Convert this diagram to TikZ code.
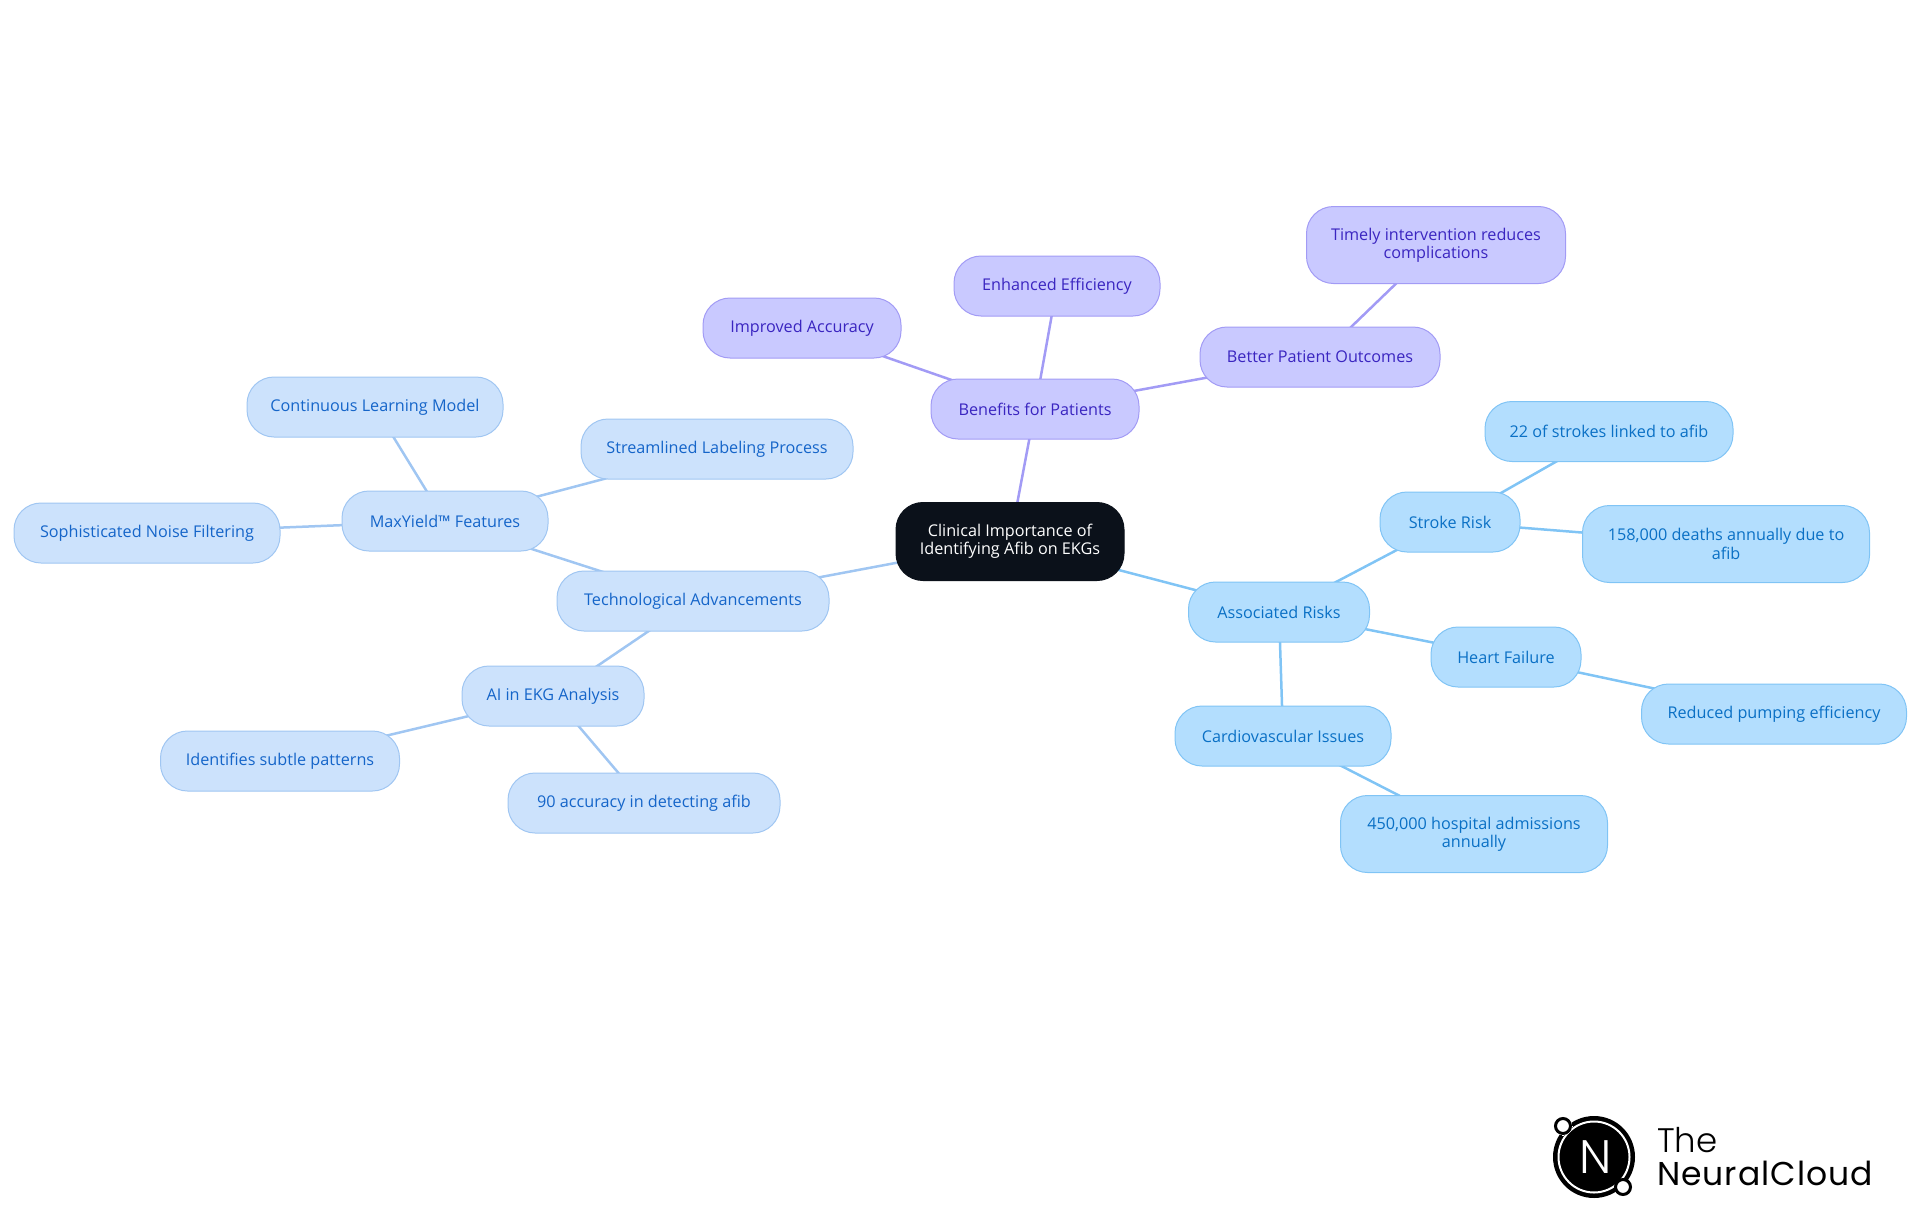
\documentclass[tikz,border=0pt]{standalone}
\usepackage{fontspec}
\usepackage{tikz}
\usetikzlibrary{backgrounds}
\setmainfont{Open Sans}
\newfontfamily\logofont{Poppins Light}
\newfontfamily\cloudfont[LetterSpace=3]{Poppins}
\definecolor{rootfill}{HTML}{0B111A}
\definecolor{techfill}{HTML}{CCE2FC}
\definecolor{techline}{HTML}{A0C6F2}
\definecolor{techtext}{HTML}{1565C9}
\definecolor{benefitfill}{HTML}{C9C9FF}
\definecolor{benefitline}{HTML}{A29BF5}
\definecolor{benefittext}{HTML}{3A25C0}
\definecolor{riskfill}{HTML}{B3DEFE}
\definecolor{riskline}{HTML}{80C4F5}
\definecolor{risktext}{HTML}{0A70C5}

\begin{document}
\begin{tikzpicture}
            [x=1pt,y=-1pt,
            idea/.style={rounded corners=27pt,inner sep=0pt,line width=1pt,align=center,minimum height=60pt,font=\fontsize{16.2}{18.4}\selectfont},
            root/.style={idea,fill=rootfill,draw=rootfill,text=white},
            tech/.style={idea,fill=techfill,draw=techline,text=techtext},
            benefit/.style={idea,fill=benefitfill,draw=benefitline,text=benefittext},
            risk/.style={idea,fill=riskfill,draw=riskline,text=risktext},
            techedge/.style={line width=2.5pt,techline},
            benefitedge/.style={line width=2.5pt,benefitline},
            riskedge/.style={line width=2.5pt,riskline}]
            \useasboundingbox (0,0) rectangle (1920,1215);

            \node[root,minimum width=228pt,minimum height=78pt] (clinical) at (1010,541.5) {Clinical Importance of\\Identifying Afib on EKGs};

            \node[benefit,minimum width=208pt] (benefits) at (1035,409) {Benefits for Patients};
            \node[benefit,minimum width=198pt] (accuracy) at (802,328) {Improved Accuracy};
            \node[benefit,minimum width=206pt] (efficiency) at (1057,286) {Enhanced Efficiency};
            \node[benefit,minimum width=240pt] (outcomes) at (1320,357) {Better Patient Outcomes};
            \node[benefit,minimum width=259pt,minimum height=77pt] (timely) at (1436,245) {Timely intervention reduces\\complications};

            \node[risk,minimum width=181pt] (risks) at (1279,612) {Associated Risks};
            \node[risk,minimum width=140pt] (stroke) at (1450,522) {Stroke Risk};
            \node[risk,minimum width=248pt] (strokes) at (1609,431.5) {22 of strokes linked to afib};
            \node[risk,minimum width=287pt,minimum height=77pt] (deaths) at (1726,544) {158,000 deaths annually due to\\afib};
            \node[risk,minimum width=150pt] (heart) at (1506,657) {Heart Failure};
            \node[risk,minimum width=265pt] (pumping) at (1774,714) {Reduced pumping efficiency};
            \node[risk,minimum width=216pt] (cardio) at (1283,736) {Cardiovascular Issues};
            \node[risk,minimum width=267pt,minimum height=77pt] (admissions) at (1474,834) {450,000 hospital admissions\\annually};

            \node[tech,minimum width=272pt] (advances) at (693,601) {Technological Advancements};
            \node[tech,minimum width=206pt] (maxyield) at (445,521) {MaxYield™ Features};
            \node[tech,minimum width=256pt] (learning) at (375,407) {Continuous Learning Model};
            \node[tech,minimum width=272pt] (labeling) at (717,449) {Streamlined Labeling Process};
            \node[tech,minimum width=266pt] (noise) at (147,533) {Sophisticated Noise Filtering};
            \node[tech,minimum width=182pt] (ekg) at (553,696) {AI in EKG Analysis};
            \node[tech,minimum width=239pt] (patterns) at (280,761) {Identifies subtle patterns};
            \node[tech,minimum width=272pt] (detecting) at (644,803) {90 accuracy in detecting afib};

            \begin{scope}[on background layer]
            \draw[benefitedge] (clinical.center) -- (benefits.center);
            \draw[benefitedge] (benefits.center) -- (accuracy.center);
            \draw[benefitedge] (benefits.center) -- (efficiency.center);
            \draw[benefitedge] (benefits.center) -- (outcomes.center);
            \draw[benefitedge] (outcomes.center) -- (timely.center);
            \draw[riskedge] (clinical.center) -- (risks.center);
            \draw[riskedge] (risks.center) -- (stroke.center);
            \draw[riskedge] (stroke.center) -- (strokes.center);
            \draw[riskedge] (stroke.center) -- (deaths.center);
            \draw[riskedge] (risks.center) -- (heart.center);
            \draw[riskedge] (heart.center) -- (pumping.center);
            \draw[riskedge] (risks.center) -- (cardio.center);
            \draw[riskedge] (cardio.center) -- (admissions.center);
            \draw[techedge] (clinical.center) -- (advances.center);
            \draw[techedge] (advances.center) -- (maxyield.center);
            \draw[techedge] (maxyield.center) -- (learning.center);
            \draw[techedge] (maxyield.center) -- (labeling.center);
            \draw[techedge] (maxyield.center) -- (noise.center);
            \draw[techedge] (advances.center) -- (ekg.center);
            \draw[techedge] (ekg.center) -- (patterns.center);
            \draw[techedge] (ekg.center) -- (detecting.center);
            \end{scope}

            % logo
            \fill[black] (1594,1157) circle (41);
            \draw[white,line width=2pt] (1594,1157) circle (35.5);
            \draw[white,fill=white,line width=0pt] (1563,1126) circle (9);
            \draw[black,fill=white,line width=3pt] (1563,1126) circle (7.5);
            \draw[black,fill=white,line width=3pt] (1623,1187) circle (7.5);
            \node[text=white,inner sep=0pt,font=\logofont\fontsize{47}{47}\selectfont] (mark) at (1596,1157) {N};
            \node[anchor=base west,inner sep=0pt,font=\logofont\fontsize{34}{34}\selectfont] (the) at (1657,1152) {The};
            \node[anchor=base west,inner sep=0pt,font=\cloudfont\fontsize{33}{33}\selectfont] (cloud) at (1657,1185) {NeuralCloud};
        \end{tikzpicture}
\end{document}
